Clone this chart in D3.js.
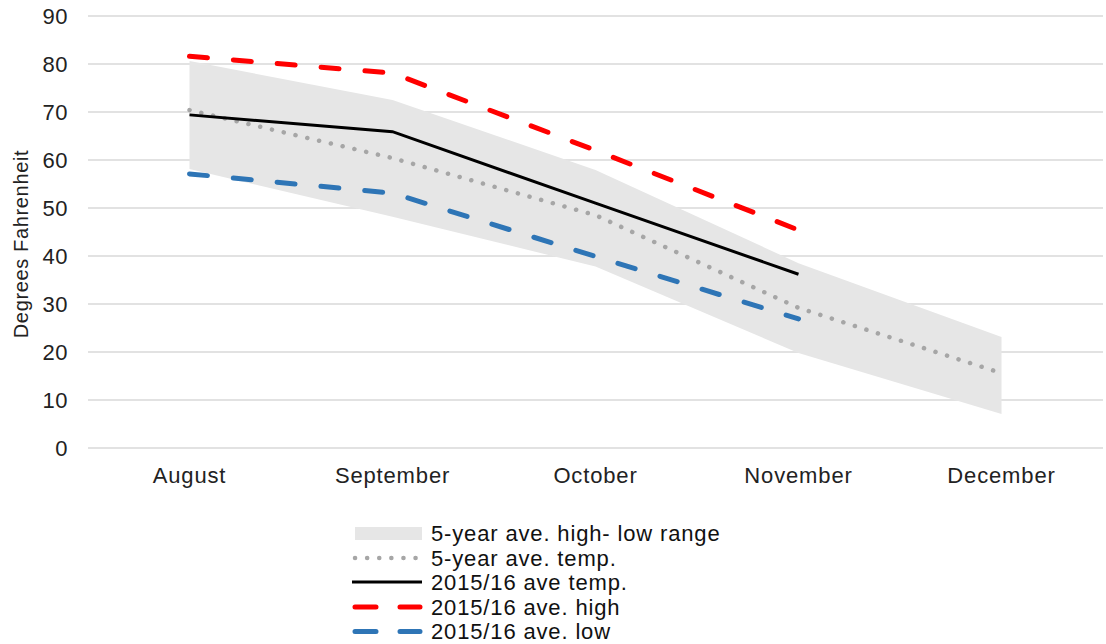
<!DOCTYPE html>
<html><head><meta charset="utf-8">
<script src="https://cdn.jsdelivr.net/npm/d3@7"></script>
<style>body{margin:0;background:#fff;}svg{display:block;font-family:"Liberation Sans",Arial,sans-serif;}</style>
</head><body><svg id="c" width="1106" height="644"></svg>
<script>
const months = ["August","September","October","November","December"];
const rangeHigh = [80.6, 72.5, 57.9, 38.5, 23.1];
const rangeLow  = [58.1, 48.2, 37.8, 19.8, 7.1];
const fiveYrAvg = [70.4, 60.4, 48.5, 29.2, 15.6];
const avg1516   = [69.4, 65.9, 51.0, 36.2];
const high1516  = [81.6, 78.1, 62.0, 45.4];
const low1516   = [57.1, 53.1, 39.9, 26.9];
const yTicks = [0,10,20,30,40,50,60,70,80,90];
const legendLabels = ["5-year ave. high- low range","5-year ave. temp.","2015/16 ave temp.","2015/16 ave. high","2015/16 ave. low"];

const svg = d3.select("#c");
const x = d3.scaleBand().domain(months).range([88,1103]);
const cx = m => x(m) + x.bandwidth()/2;
const y = d3.scaleLinear().domain([0,90]).range([448,16]);

// gridlines
svg.append("g").selectAll("line").data(yTicks).join("line")
  .attr("x1",88).attr("x2",1103).attr("y1",d=>y(d)).attr("y2",d=>y(d))
  .attr("stroke","#d9d9d9").attr("stroke-width",1.3);

// y axis labels
const yAxis = d3.axisLeft(y).tickValues(yTicks).tickSize(0).tickPadding(0);
const yg = svg.append("g").attr("transform","translate(68,0)").call(yAxis);
yg.select(".domain").remove();
yg.selectAll("text").attr("font-size",22).attr("letter-spacing","0.5px").attr("fill","#222").attr("font-family","Liberation Sans, Arial, sans-serif").attr("dy","0.35em");

// x axis labels
const xAxis = d3.axisBottom(x).tickSize(0).tickPadding(0);
const xg = svg.append("g").attr("transform","translate(0,468)").call(xAxis);
xg.select(".domain").remove();
xg.selectAll("text").attr("font-size",22).attr("letter-spacing","0.85px").attr("fill","#222").attr("font-family","Liberation Sans, Arial, sans-serif").attr("dy","0.68em");

// y title
svg.append("text").attr("transform","translate(28,244) rotate(-90)")
  .attr("text-anchor","middle").attr("font-size",20).attr("letter-spacing","0.65px").attr("fill","#222").text("Degrees Fahrenheit");

// band
const area = d3.area().x((d,i)=>cx(months[i])).y0((d,i)=>y(rangeLow[i])).y1(d=>y(d));
svg.append("path").datum(rangeHigh).attr("d",area).attr("fill","#e6e6e6");

const line = d3.line().x((d,i)=>cx(months[i])).y(d=>y(d));
svg.append("path").datum(fiveYrAvg).attr("d",line).attr("fill","none")
  .attr("stroke","#a6a6a6").attr("stroke-width",4.5).attr("stroke-linecap","round").attr("stroke-dasharray","0.1 12");
svg.append("path").datum(avg1516).attr("d",line).attr("fill","none")
  .attr("stroke","#000").attr("stroke-width",3);
svg.append("path").datum(high1516).attr("d",line).attr("fill","none")
  .attr("stroke","#ff0000").attr("stroke-width",5).attr("stroke-linecap","round").attr("stroke-dasharray","18 26");
svg.append("path").datum(low1516).attr("d",line).attr("fill","none")
  .attr("stroke","#2e75b6").attr("stroke-width",5).attr("stroke-linecap","round").attr("stroke-dasharray","18 26");

// legend
const lg = svg.append("g");
const rowY = [533.5, 558, 582, 607, 631.5];
const styles = [
  {type:"rect"},
  {stroke:"#a6a6a6", w:4.5, dash:"0.1 12", cap:"round"},
  {stroke:"#000", w:3, dash:null, cap:"butt"},
  {stroke:"#ff0000", w:5, dash:"21 24", cap:"round"},
  {stroke:"#2e75b6", w:5, dash:"21 24", cap:"round"}
];
legendLabels.forEach((lab,i)=>{
  const s = styles[i];
  if(s.type==="rect"){
    lg.append("rect").attr("x",355).attr("y",rowY[i]-6.5).attr("width",67).attr("height",13).attr("fill","#e6e6e6");
  } else {
    lg.append("line").attr("x1", s.cap==="round"?355:352).attr("x2", s.cap==="round"?420:422).attr("y1",rowY[i]).attr("y2",rowY[i])
      .attr("stroke",s.stroke).attr("stroke-width",s.w).attr("stroke-linecap",s.cap).attr("stroke-dasharray",s.dash);
  }
  lg.append("text").attr("x",431).attr("y",rowY[i]).attr("dy","0.35em").attr("font-size",22).attr("letter-spacing","0.85px").attr("fill","#111").text(lab);
});
</script></body></html>
